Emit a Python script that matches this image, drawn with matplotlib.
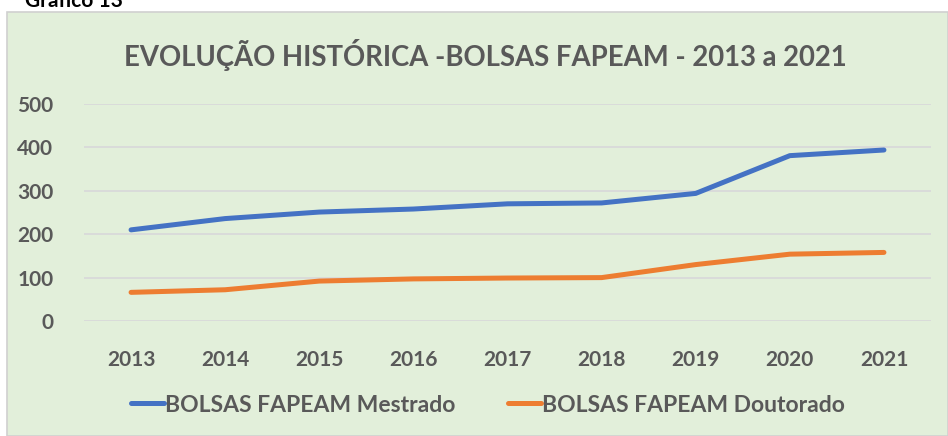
import matplotlib.pyplot as plt
from matplotlib.patches import Rectangle

anos = ['2013', '2014', '2015', '2016', '2017', '2018', '2019', '2020', '2021']
mestrado = [210, 236, 251, 258, 270, 272, 294, 381, 394]
doutorado = [66, 72, 92, 97, 99, 100, 130, 154, 158]
yticks = [0, 100, 200, 300, 400, 500]

cinza = '#595959'
fundo = '#E2EFDA'
fonte = 'Lato'

W, H = 948, 436
fig = plt.figure(figsize=(W / 100, H / 100), dpi=100)
fig.patch.set_facecolor('white')

# caixa verde do grafico
fig.patches.append(Rectangle((7 / W, 0), 1 - 7 / W, 1 - 12 / H,
                             transform=fig.transFigure, facecolor=fundo,
                             edgecolor='#D0D0D0', linewidth=1.2, zorder=0))

fig.text(25 / W, 1 - 7 / H, 'Gráfico 13', fontsize=15, fontweight='bold',
         family=fonte, color='black', va='baseline')

ax = fig.add_axes([84 / W, (H - 321) / H, (931 - 84) / W, (321 - 104) / H])
ax.set_zorder(2)
ax.set_facecolor('none')
x = list(range(len(anos)))
ax.plot(x, mestrado, color='#4472C4', lw=3.6, solid_capstyle='round',
        solid_joinstyle='round', label='BOLSAS FAPEAM Mestrado')
ax.plot(x, doutorado, color='#ED7D31', lw=3.6, solid_capstyle='round',
        solid_joinstyle='round', label='BOLSAS FAPEAM Doutorado')

ax.set_xlim(-0.5, len(anos) - 0.5)
ax.set_ylim(0, 500)
ax.set_yticks(yticks)
ax.set_xticks(x)
ax.set_xticklabels(anos)
ax.grid(axis='y', color='#D9D9D9', lw=1.3)
ax.set_axisbelow(True)
for s in ax.spines.values():
    s.set_visible(False)
ax.tick_params(length=0, labelcolor=cinza, labelsize=15)
ax.tick_params(axis='y', pad=22)
ax.tick_params(axis='x', pad=21)
for t in ax.get_xticklabels() + ax.get_yticklabels():
    t.set_fontweight('bold')
    t.set_family(fonte)

fig.text(485 / W, 1 - 55 / H, 'EVOLUÇÃO HISTÓRICA -BOLSAS FAPEAM - 2013 a 2021',
         ha='center', va='center', fontsize=19.8, fontweight='bold',
         family=fonte, color=cinza)

leg = fig.legend(loc='center', bbox_to_anchor=(488 / W, 1 - 405 / H), ncol=2,
                 frameon=False, handlelength=1.45, handletextpad=0.05,
                 columnspacing=2.3,
                 prop={'family': fonte, 'weight': 'bold', 'size': 16.5},
                 labelcolor=cinza)
leg.set_zorder(3)

fig.savefig('out.png', dpi=100)
